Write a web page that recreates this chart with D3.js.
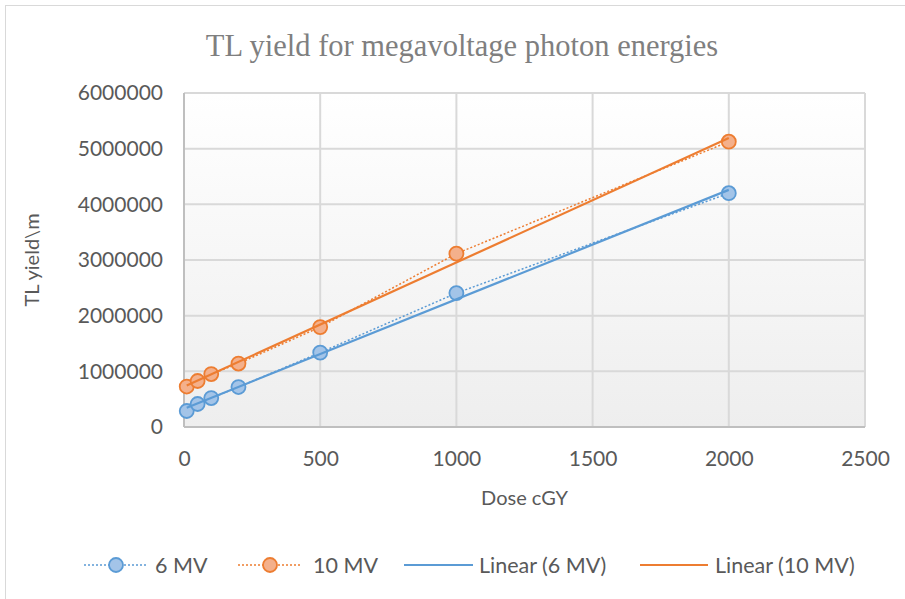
<!DOCTYPE html>
<html>
<head>
<meta charset="utf-8">
<script src="https://cdn.jsdelivr.net/npm/d3@7"></script>
<style>
  body { margin: 0; background: #fff; }
  svg { display: block; }
</style>
</head>
<body>
<svg id="chart"></svg>
<script>
const width = 905;
const height = 599;

// data
const dose = [10, 50, 100, 200, 500, 1000, 2000];
const mv6 = [287000, 413000, 520000, 718000, 1337000, 2405000, 4200000];
const mv10 = [727000, 826000, 951000, 1140000, 1795000, 3115000, 5125000];
// trendline endpoints (Excel linear trendlines)
const trendDose = [10, 2000];
const trend6 = [347000, 4260000];
const trend10 = [745000, 5190000];

const xTicks = [0, 500, 1000, 1500, 2000, 2500];
const yTicks = [0, 1000000, 2000000, 3000000, 4000000, 5000000, 6000000];

const blue = '#5b9bd5';
const orange = '#ed7d31';
const textColor = '#595959';
const font = 'Lato, "Open Sans", sans-serif';

const svg = d3.select('#chart').attr('width', width).attr('height', height);

// chart border
svg.append('rect')
  .attr('x', 5.5).attr('y', 5.5)
  .attr('width', 1000).attr('height', 1000)
  .attr('fill', 'none').attr('stroke', '#d9d9d9');

const plot = {left: 184, right: 865, top: 93, bottom: 427};

const x = d3.scaleLinear().domain([0, 2500]).range([plot.left, plot.right]);
const y = d3.scaleLinear().domain([0, 6000000]).range([plot.bottom, plot.top]);

// plot area gradient
const defs = svg.append('defs');
const grad = defs.append('linearGradient').attr('id', 'bg')
  .attr('x1', 0).attr('y1', 0).attr('x2', 0).attr('y2', 1);
grad.append('stop').attr('offset', '0%').attr('stop-color', '#ffffff');
grad.append('stop').attr('offset', '100%').attr('stop-color', '#eeeeee');

svg.append('rect')
  .attr('x', plot.left).attr('y', plot.top)
  .attr('width', plot.right - plot.left).attr('height', plot.bottom - plot.top)
  .attr('fill', 'url(#bg)');

// gridlines
svg.append('g').selectAll('line')
  .data(yTicks.slice(1))
  .enter().append('line')
  .attr('x1', plot.left).attr('x2', plot.right)
  .attr('y1', d => y(d)).attr('y2', d => y(d))
  .attr('stroke', '#d9d9d9').attr('stroke-width', 2);

svg.append('g').selectAll('line')
  .data(xTicks.slice(1))
  .enter().append('line')
  .attr('y1', plot.top).attr('y2', plot.bottom)
  .attr('x1', d => x(d)).attr('x2', d => x(d))
  .attr('stroke', '#d9d9d9').attr('stroke-width', 2);

// axis lines
svg.append('line')
  .attr('x1', plot.left).attr('x2', plot.left)
  .attr('y1', plot.top).attr('y2', plot.bottom)
  .attr('stroke', '#bfbfbf').attr('stroke-width', 2);
svg.append('line')
  .attr('x1', plot.left).attr('x2', plot.right)
  .attr('y1', plot.bottom).attr('y2', plot.bottom)
  .attr('stroke', '#bfbfbf').attr('stroke-width', 2);

// tick labels
const yAxis = svg.append('g')
  .attr('transform', `translate(${plot.left}, 0)`)
  .call(d3.axisLeft(y).tickValues(yTicks).tickFormat(d3.format('d')).tickSize(0).tickPadding(21));
const xAxis = svg.append('g')
  .attr('transform', `translate(0, ${plot.bottom})`)
  .call(d3.axisBottom(x).tickValues(xTicks).tickFormat(d3.format('d')).tickSize(0).tickPadding(24));
[xAxis, yAxis].forEach(a => {
  a.select('.domain').remove();
  a.selectAll('text')
    .attr('fill', textColor)
    .style('font-family', font)
    .style('font-size', '21px');
});

// title
svg.append('text')
  .attr('x', 462).attr('y', 56)
  .attr('text-anchor', 'middle')
  .attr('fill', '#7f7f7f')
  .style('font-family', '"Liberation Serif", "Times New Roman", serif')
  .style('font-size', '30.5px')
  .text('TL yield for megavoltage photon energies');

// axis titles
svg.append('text')
  .attr('x', (plot.left + plot.right) / 2).attr('y', 505)
  .attr('text-anchor', 'middle')
  .attr('fill', textColor)
  .style('font-family', font).style('font-size', '20px')
  .text('Dose cGY');

svg.append('text')
  .attr('transform', `translate(39, ${(plot.top + plot.bottom) / 2}) rotate(-90)`)
  .attr('text-anchor', 'middle')
  .attr('fill', textColor)
  .style('font-family', font).style('font-size', '20px')
  .text('TL yield\\m');

// series
const series = [
  {name: '6 MV', values: mv6, trend: trend6, color: blue, fill: '#a3c4e8'},
  {name: '10 MV', values: mv10, trend: trend10, color: orange, fill: '#f4b08b'}
];

const line = d3.line().x(d => x(d[0])).y(d => y(d[1]));

series.forEach(s => {
  const pts = dose.map((d, i) => [d, s.values[i]]);
  svg.append('path')
    .attr('d', line(pts))
    .attr('fill', 'none')
    .attr('stroke', s.color)
    .attr('stroke-width', 1.5)
    .attr('stroke-dasharray', '2,2');
});

series.forEach(s => {
  const pts = dose.map((d, i) => [d, s.values[i]]);
  svg.append('g').selectAll('circle')
    .data(pts)
    .enter().append('circle')
    .attr('cx', d => x(d[0]))
    .attr('cy', d => y(d[1]))
    .attr('r', 7)
    .attr('fill', s.fill)
    .attr('stroke', s.color)
    .attr('stroke-width', 1.8);
});

series.forEach(s => {
  const pts = trendDose.map((d, i) => [d, s.trend[i]]);
  svg.append('path')
    .attr('d', line(pts))
    .attr('fill', 'none')
    .attr('stroke', s.color)
    .attr('stroke-width', 2.2);
});

// legend
const legendY = 565;
const legendItems = [
  {label: '6 MV', x0: 84, x1: 148, tx: 155, color: blue, fill: '#a3c4e8', marker: true},
  {label: '10 MV', x0: 238, x1: 302, tx: 313, color: orange, fill: '#f4b08b', marker: true},
  {label: 'Linear (6 MV)', x0: 404, x1: 473, tx: 479, color: blue, marker: false},
  {label: 'Linear (10 MV)', x0: 640, x1: 708, tx: 715, color: orange, marker: false}
];
const legend = svg.append('g');
legendItems.forEach(l => {
  legend.append('line')
    .attr('x1', l.x0).attr('x2', l.x1)
    .attr('y1', legendY).attr('y2', legendY)
    .attr('stroke', l.color)
    .attr('stroke-width', l.marker ? 1.5 : 2.2)
    .attr('stroke-dasharray', l.marker ? '2,2' : null);
  if (l.marker) {
    legend.append('circle')
      .attr('cx', (l.x0 + l.x1) / 2).attr('cy', legendY).attr('r', 7)
      .attr('fill', l.fill).attr('stroke', l.color).attr('stroke-width', 1.8);
  }
  legend.append('text')
    .attr('x', l.tx).attr('y', legendY)
    .attr('dy', '0.35em')
    .attr('fill', textColor)
    .style('font-family', font).style('font-size', '21.5px')
    .text(l.label);
});
</script>
</body>
</html>
